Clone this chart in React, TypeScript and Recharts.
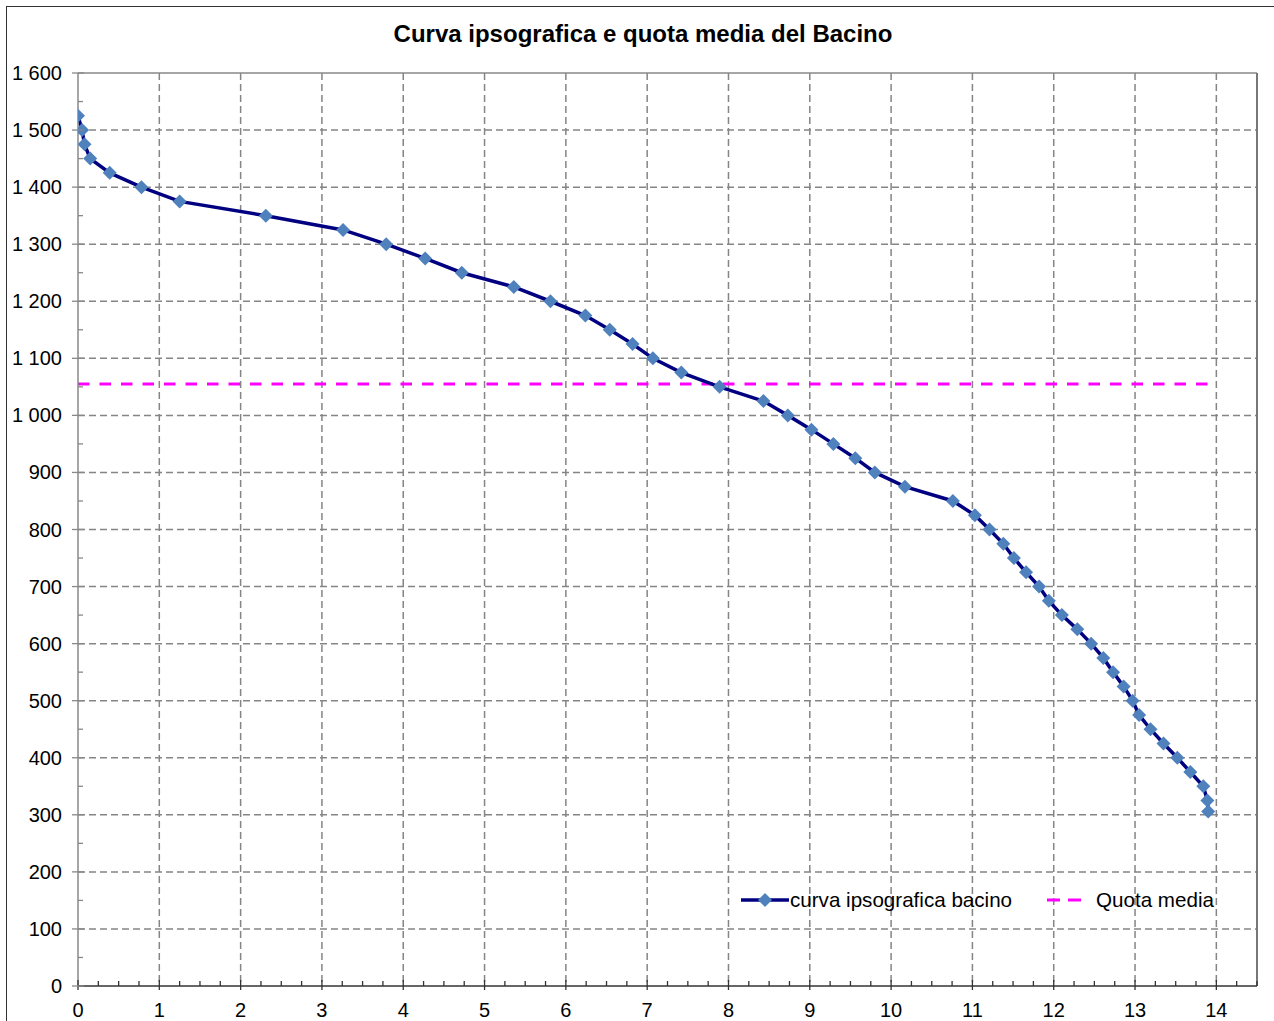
import { LineChart, Line, XAxis, YAxis, CartesianGrid, ReferenceLine, Legend } from 'recharts';

// superficie cumulata (km²) e quota (m s.l.m.)
const areas = [
  0, 0.05, 0.08, 0.15, 0.39, 0.78, 1.25, 2.31, 3.26, 3.79, 4.27, 4.72, 5.36, 5.81, 6.24, 6.54, 6.82,
  7.07, 7.42, 7.89, 8.43, 8.73, 9.02, 9.29, 9.56, 9.8, 10.17, 10.76, 11.03, 11.21, 11.38, 11.51, 11.66,
  11.82, 11.94, 12.1, 12.29, 12.46, 12.61, 12.73, 12.86, 12.97, 13.05, 13.19, 13.35, 13.52, 13.68,
  13.84, 13.89, 13.9,
];
const elevations = [
  1525, 1500, 1475, 1450, 1425, 1400, 1375, 1350, 1325, 1300, 1275, 1250, 1225, 1200, 1175, 1150, 1125,
  1100, 1075, 1050, 1025, 1000, 975, 950, 925, 900, 875, 850, 825, 800, 775, 750, 725, 700, 675, 650,
  625, 600, 575, 550, 525, 500, 475, 450, 425, 400, 375, 350, 325, 306,
];
const meanX = [0, 13.9];
const meanElevation = 1055;

const xTicks = Array.from({ length: 59 }, (_, i) => i * 0.25);
const yTicks = Array.from({ length: 33 }, (_, i) => i * 50);
const xGrid = [1, 2, 3, 4, 5, 6, 7, 8, 9, 10, 11, 12, 13, 14];
const yGrid = [100, 200, 300, 400, 500, 600, 700, 800, 900, 1000, 1100, 1200, 1300, 1400, 1500];

const curve = areas.map((x, i) => ({ x, y: elevations[i] }));
const mean = meanX.map((x) => ({ x, y: meanElevation }));

const FONT = '"Liberation Sans", Arial, sans-serif';
const LINE = '#000080';
const MARK = '#4F81BD';
const MEAN = '#FF00FF';

const fmt = (v: number) => (v >= 1000 ? `${Math.floor(v / 1000)} ${String(v % 1000).padStart(3, '0')}` : String(v));

const Diamond = (props: any) => {
  const { cx, cy } = props;
  if (cx == null || cy == null) return null;
  const r = 7;
  return <polygon points={`${cx},${cy - r} ${cx + r},${cy} ${cx},${cy + r} ${cx - r},${cy}`} fill={MARK} />;
};

const XTick = (props: any) => {
  const { x, y, payload } = props;
  const v = payload.value;
  const major = Math.abs(v - Math.round(v)) < 1e-6;
  if (!major) return <line x1={x} x2={x} y1={y - 5} y2={y} stroke="#333" strokeWidth={1.3} />;
  return (
    <g>
      <line x1={x} x2={x} y1={y - 6} y2={y + 4} stroke="#333" strokeWidth={1.3} />
      <text x={x} y={y + 31} textAnchor="middle" fontSize={20} fontFamily={FONT} fill="#000">
        {Math.round(v)}
      </text>
    </g>
  );
};

const YTick = (props: any) => {
  const { x, y, payload } = props;
  const v = payload.value;
  if (v % 100 !== 0) return <line x1={x} x2={x + 5} y1={y} y2={y} stroke="#888" strokeWidth={1.3} />;
  return (
    <g>
      <line x1={x - 6} x2={x + 6} y1={y} y2={y} stroke="#888" strokeWidth={1.3} />
      <text x={x - 16} y={y + 7} textAnchor="end" fontSize={20} fontFamily={FONT} fill="#000">
        {fmt(v)}
      </text>
    </g>
  );
};

const LegendBox = () => (
  <svg width={1274} height={40} style={{ display: 'block' }}>
    <line x1={741} x2={789} y1={20} y2={20} stroke={LINE} strokeWidth={3.5} />
    <Diamond cx={765} cy={20} />
    <text x={790} y={27} fontSize={20.6} fontFamily={FONT} fill="#000">curva ipsografica bacino</text>
    <line x1={1047} x2={1085} y1={20} y2={20} stroke={MEAN} strokeWidth={3} strokeDasharray="13 8" />
    <text x={1096} y={27} fontSize={20.6} fontFamily={FONT} fill="#000">Quota media</text>
  </svg>
);

export default function App() {
  return (
    <div style={{ position: 'absolute', left: 0, top: 0, width: 1274, height: 1021, overflow: 'hidden', background: '#fff' }}>
      <div style={{ position: 'absolute', left: 6, top: 6, width: 1300, height: 1100, border: '1.5px solid #333' }} />
      <div
        style={{
          position: 'absolute', left: 0, top: 20, width: 1286, textAlign: 'center',
          fontFamily: FONT, fontWeight: 'bold', fontSize: 24, lineHeight: '28px', color: '#000',
        }}
      >
        Curva ipsografica e quota media del Bacino
      </div>
      <LineChart width={1274} height={1021} margin={{ top: 73, right: 17, bottom: 0, left: 0 }}>
        <CartesianGrid
          horizontalValues={yGrid}
          verticalValues={xGrid}
          stroke="#858585"
          strokeWidth={1.5}
          strokeDasharray="7 4"
        />
        <XAxis
          type="number"
          dataKey="x"
          domain={[0, 14.5]}
          ticks={xTicks}
          interval={0}
          allowDataOverflow
          height={35}
          tickSize={0}
          tickMargin={0}
          tickLine={false}
          tick={<XTick />}
          axisLine={{ stroke: '#333', strokeWidth: 1.5 }}
        />
        <YAxis
          type="number"
          dataKey="y"
          domain={[0, 1600]}
          ticks={yTicks}
          interval={0}
          allowDataOverflow
          width={78}
          tickSize={0}
          tickMargin={0}
          tickLine={false}
          tick={<YTick />}
          axisLine={{ stroke: '#888', strokeWidth: 1.5 }}
        />
        <ReferenceLine y={1600} stroke="#888" strokeWidth={1.5} />
        <ReferenceLine x={14.5} stroke="#777" strokeWidth={2} />
        <Line
          data={mean}
          dataKey="y"
          name="Quota media"
          stroke={MEAN}
          strokeWidth={3}
          strokeDasharray="11.5 10"
          dot={false}
          activeDot={false}
          isAnimationActive={false}
        />
        <Line
          data={curve}
          dataKey="y"
          name="curva ipsografica bacino"
          stroke={LINE}
          strokeWidth={3.5}
          type="linear"
          dot={<Diamond />}
          activeDot={false}
          isAnimationActive={false}
        />
        <Legend
          layout="vertical"
          align="center"
          verticalAlign="middle"
          wrapperStyle={{ position: 'absolute', left: 0, top: 880, width: 1274, height: 40 }}
          content={<LegendBox />}
        />
      </LineChart>
    </div>
  );
}
